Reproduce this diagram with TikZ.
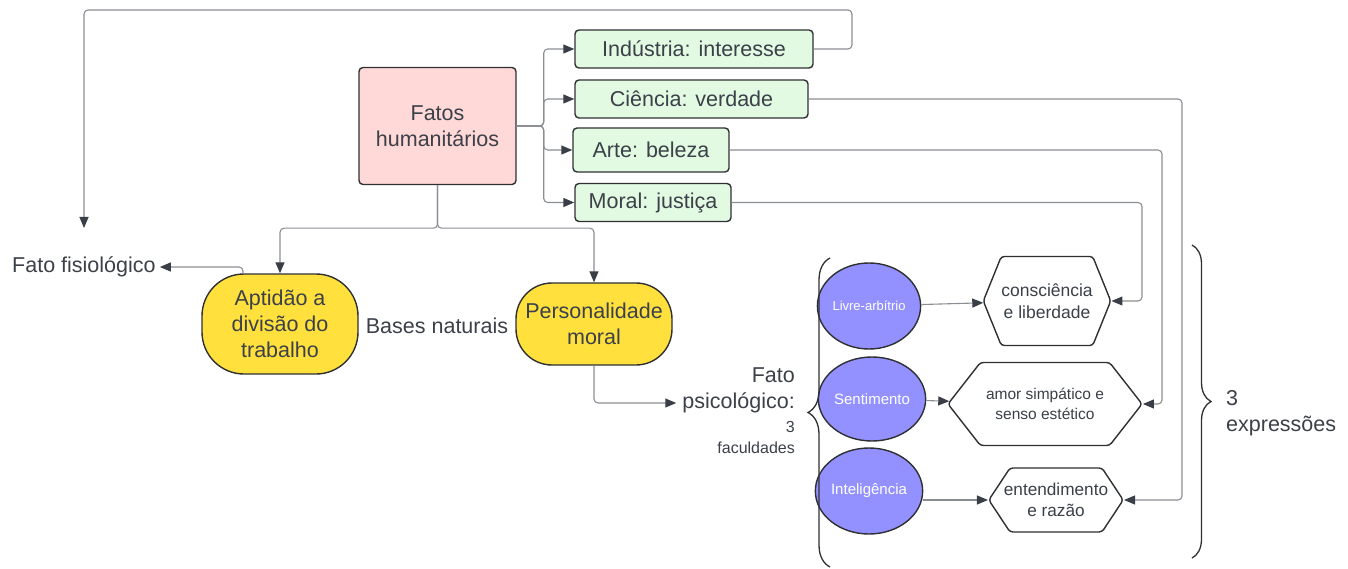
\documentclass[tikz,border=0pt]{standalone}
\usepackage{fontspec}
\setmainfont{Liberation Sans}
\usetikzlibrary{
  positioning,
  shapes.geometric,
  shapes.symbols,
  decorations.pathreplacing,
  arrows.meta
}
\definecolor{texto}{HTML}{3B4049}
\definecolor{borda}{HTML}{2F3033}
\definecolor{linha}{HTML}{8A8D92}
\definecolor{ponta}{HTML}{3A3F47}
\definecolor{rosa}{HTML}{FFD8D8}
\definecolor{verde}{HTML}{E2F9E2}
\definecolor{amarelo}{HTML}{FFE03D}
\definecolor{roxo}{HTML}{9391FF}
\newcommand\grande{\fontsize{21.5}{26}\selectfont}
\newcommand\medio{\fontsize{17.5}{21.5}\selectfont}
\newcommand\pequeno{\fontsize{16}{21}\selectfont}
\tikzset{fato/.style={
  draw=borda, line width=1.4pt,
  fill=rosa,
  rounded corners=4pt,
  minimum width=157pt, minimum height=117pt,
  align=center, text=texto, font=\grande
}}
\tikzset{ramo/.style={
  draw=borda, line width=1.4pt,
  fill=verde,
  rounded corners=4pt,
  minimum height=38pt, inner sep=0pt,
  text=texto, font=\grande
}}
\tikzset{base/.style={
  draw=borda, line width=1.4pt,
  fill=amarelo,
  inner sep=0pt,
  align=center, text=texto, font=\grande
}}
\tikzset{faculdade/.style={
  ellipse, draw=borda, line width=1.4pt,
  fill=roxo,
  minimum width=78pt, minimum height=86pt, inner sep=0pt,
  text=white, font=\fontsize{15}{17}\selectfont
}}
\tikzset{expressao/.style={
  signal, signal to=west and east,
  draw=borda, line width=1.4pt,
  fill=white,
  rounded corners=3pt, inner sep=0pt,
  align=center, text=texto, font=\medio
}}
\tikzset{rotulo/.style={
  inner sep=4pt, text=texto, font=\grande
}}
\tikzset{liga/.style={
  draw=linha, line width=1.1pt,
  rounded corners=4pt,
  -{Triangle[length=11pt,width=9pt,color=ponta]}
}}
\tikzset{chave/.style={
  draw=borda, line width=1.3pt,
  decorate
}}

\begin{document}
\begin{tikzpicture}[x=1pt,y=-1pt]
  \useasboundingbox (0,0) rectangle (1348,569);
  % raiz e ramos
  \node [fato] (fatos) at (437.5,126) {Fatos\\humanitários};
  \node [ramo, minimum width=238pt] (ind) at (694,49) {Indústria: interesse};
  \node [ramo, minimum width=233pt] (cien) at (691.5,99) {Ciência: verdade};
  \node [ramo, minimum width=156pt, minimum height=44pt] (arte) at (651,150) {Arte: beleza};
  \node [ramo, minimum width=156pt] (moral) at (653,202.5) {Moral: justiça};
  % bases naturais
  \node [base, minimum width=156pt, minimum height=100pt, rounded corners=42pt] (apt) at (280,324) {Aptidão a\\divisão do\\trabalho};
  \node [base, minimum width=156pt, minimum height=82pt, rounded corners=36pt] (pers) at (594,324) {Personalidade\\moral};
  \node [rotulo] (bases) at (437,326) {Bases naturais};
  \node [rotulo, anchor=west] (fisio) at (8,267) {Fato fisiológico};
  \coordinate (fisiotopo) at (84,228);
  % fato psicologico
  \node [rotulo, anchor=east, align=right, inner xsep=6pt] (psico) at (801,390) {Fato\\psicológico:};
  \node [rotulo, anchor=east, align=right, inner xsep=6pt, font=\pequeno] (facul) at (801,437.5) {3\\faculdades};
  \node [faculdade, font=\fontsize{13}{15}\selectfont] (livre) at (869,306) {Livre-arbítrio};
  \node [faculdade, minimum width=80pt, minimum height=84pt] (sent) at (872,399) {Sentimento};
  \node [faculdade] (intel) at (869,491) {Inteligência};
  \node [expressao, minimum width=116pt, minimum height=89pt, signal pointer angle=136] (consc) at (1047,301) {consciência\\e liberdade};
  \node [expressao, minimum width=194pt, minimum height=83pt, signal pointer angle=104, font=\fontsize{15.5}{20}\selectfont] (amor) at (1045,404) {amor simpático e\\senso estético};
  \node [expressao, minimum width=134pt, minimum height=64pt, signal pointer angle=113, font=\fontsize{17.2}{20.5}\selectfont] (ent) at (1056,500) {\makebox[92pt]{entendimento}\\e razão};
  \node [rotulo, anchor=west, align=left] (expr) at (1222,413) {3\\expressões};
  % chaves
  \draw [chave, decoration={brace, amplitude=22pt}] (830,567) -- (830,258);
  \draw [chave, decoration={brace, amplitude=19pt}] (1192,245) -- (1192,558);
  % ligacoes
  \foreach \r in {ind, cien, arte, moral}
    \draw [liga] (fatos.east) -- ++(27,0) |- (\r.west);
  \draw [liga] (fatos.south) -- ++(0,43) -| (apt.north);
  \draw [liga] (fatos.south) -- ++(0,43) -| (pers.north);
  \draw [liga] ([xshift=-37pt]apt.north) |- (fisio.east);
  \draw [liga] (ind.east) -| (852,10) -| (fisiotopo);
  \draw [liga] (pers.south) |- ([yshift=-13pt]psico.west);
  \draw [liga] (livre) -- (consc);
  \draw [liga] (sent) -- (amor);
  \draw [liga] (intel.east |- ent.west) -- (ent.west);
  \draw [liga] (moral.east) -| (1142,280) |- (consc.east);
  \draw [liga] (arte.east) -| (1162,380) |- (amor.east);
  \draw [liga] (cien.east) -| (1182,480) |- (ent.east);
\end{tikzpicture}
\end{document}
